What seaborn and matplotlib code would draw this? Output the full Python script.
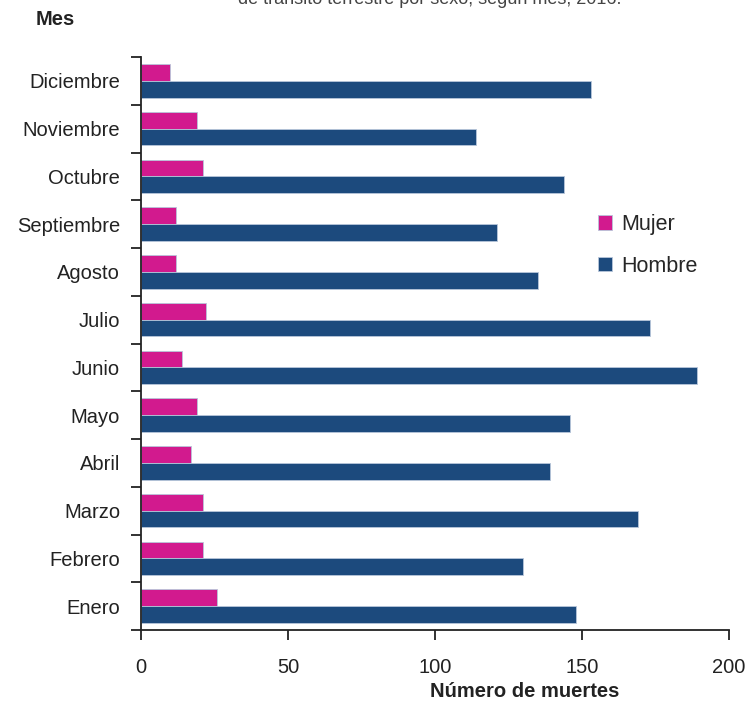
import matplotlib
matplotlib.use("Agg")
import matplotlib.pyplot as plt
import seaborn as sns
import pandas as pd
import numpy as np

# --- DATOS ---
meses = ['Enero', 'Febrero', 'Marzo', 'Abril', 'Mayo', 'Junio',
         'Julio', 'Agosto', 'Septiembre', 'Octubre', 'Noviembre', 'Diciembre']
mujer = [26, 21, 21, 17, 19, 14, 22, 12, 12, 21, 19, 10]
hombre = [148, 130, 169, 139, 146, 189, 173, 135, 121, 144, 114, 153]
sexos = ['Mujer', 'Hombre']
colores = ['#D21A8E', '#1C4A7D']

df = pd.DataFrame({
    'Mes': meses * 2,
    'Sexo': ['Mujer'] * len(meses) + ['Hombre'] * len(meses),
    'Muertes': mujer + hombre,
})

# --- GRAFICO ---
sns.set_theme(style="white")
plt.rcParams['font.family'] = ['Liberation Sans', 'DejaVu Sans']

fig = plt.figure(figsize=(7.48, 7.05), dpi=100)
ax = fig.add_axes([0.1885, 0.1064, 0.786, 0.8126])

sns.barplot(
    data=df, y='Mes', x='Muertes', hue='Sexo',
    order=meses[::-1], hue_order=sexos,
    palette=colores, width=0.7, orient='h',
    edgecolor='#B8C6DA', linewidth=0.6, saturation=1, ax=ax
)

ax.set_xlim(0, 200)
ax.set_xticks([0, 50, 100, 150, 200])
ax.set_ylim(len(meses) - 0.5, -0.5)
ax.set_xlabel('')
ax.set_ylabel('')

# ticks del eje y en los limites entre categorias
ax.set_yticks(np.arange(-0.5, len(meses), 1.0), minor=True)
ax.tick_params(axis='y', which='major', length=0, pad=15, labelsize=14.5, labelcolor='#222222')
ax.tick_params(axis='y', which='minor', left=True, length=7, width=1.3, color='#222222')
ax.tick_params(axis='x', which='major', bottom=True, length=7, width=1.3, color='#222222',
               pad=13, labelsize=14.5, labelcolor='#222222')

sns.despine(ax=ax)
for s in ['left', 'bottom']:
    ax.spines[s].set_color('#222222')
    ax.spines[s].set_linewidth(1.3)

leg = ax.legend(loc='center left', bbox_to_anchor=(0.774, 0.652),
                bbox_transform=fig.transFigure, frameon=False, fontsize=15.5,
                handlelength=0.65, handleheight=0.65, handletextpad=0.4,
                labelspacing=0.95)

fig.text(0.702, 0.005, 'Número de muertes', ha='center', va='bottom',
         fontsize=14.5, fontweight='bold', color='#222222')
fig.text(0.047, 0.972, 'Mes', ha='left', va='center',
         fontsize=14.5, fontweight='bold', color='#222222')
fig.text(0.575, 1.0, 'de tránsito terrestre por sexo, según mes, 2016.',
         ha='center', va='center', fontsize=13, color='#444444')

fig.savefig('out.png', dpi=100)
